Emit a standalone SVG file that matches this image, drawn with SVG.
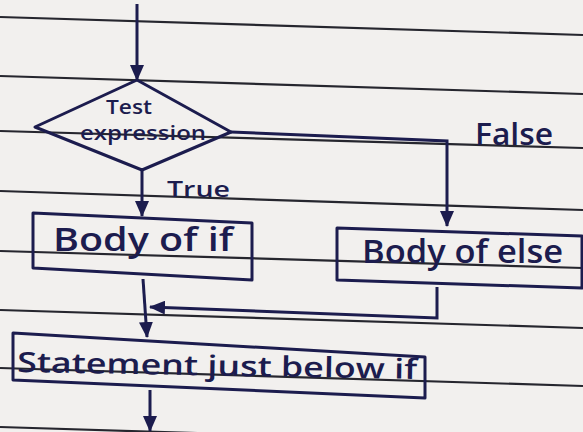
<svg xmlns="http://www.w3.org/2000/svg" width="583" height="432" viewBox="0 0 583 432">
  <defs>
    <marker id="arrow" viewBox="0 0 16 14" refX="15" refY="7" markerWidth="16" markerHeight="14" markerUnits="userSpaceOnUse" orient="auto">
      <path d="M0 0 L16 7 L0 14 Z" fill="#1c1c4e"/>
    </marker>
    <style>
      .paper { fill: #f2f0ee; }
      .rule { stroke: #26262e; stroke-width: 2.2; fill: none; }
      .shape { fill: none; stroke: #1c1c4e; stroke-width: 3; stroke-linejoin: round; }
      .link { fill: none; stroke: #1c1c4e; stroke-width: 3; marker-end: url(#arrow); }
      .ink { fill: #1c1c4e; font-family: "Open Sans", "Liberation Sans", sans-serif; font-weight: 600; }
    </style>
  </defs>

  <!-- notebook paper with ruled lines -->
  <rect class="paper" x="0" y="0" width="583" height="432"/>
  <g id="ruled-lines">
    <line class="rule" x1="0" y1="17" x2="583" y2="35"/>
    <line class="rule" x1="0" y1="76" x2="583" y2="94"/>
    <line class="rule" x1="0" y1="131" x2="583" y2="148"/>
    <line class="rule" x1="0" y1="191" x2="583" y2="210"/>
    <line class="rule" x1="0" y1="251" x2="583" y2="268"/>
    <line class="rule" x1="0" y1="310" x2="583" y2="328"/>
    <line class="rule" x1="0" y1="368" x2="583" y2="386"/>
    <line class="rule" x1="0" y1="427" x2="583" y2="445"/>
  </g>

  <!-- flow connectors -->
  <g id="connectors">
    <path class="link" d="M137 4 L137 80"/>
    <path class="link" d="M142 170 L142 216"/>
    <path class="link" d="M231 132 L447 141 L447 226"/>
    <path class="link" d="M143 279 L147 337"/>
    <path class="link" d="M437 287 L437 318 L150 307"/>
    <path class="link" d="M150 390 L150 431"/>
  </g>

  <g id="decision">
    <polygon class="shape" points="137,80 231,132 142,170 35,127"/>
    <text class="ink" x="129" y="114" font-size="20" text-anchor="middle" textLength="46" lengthAdjust="spacingAndGlyphs">Test</text>
    <text class="ink" x="143" y="140" font-size="19" text-anchor="middle" textLength="126" lengthAdjust="spacingAndGlyphs">expression</text>
  </g>

  <g id="label-true">
    <text class="ink" x="167" y="197" font-size="22" textLength="63" lengthAdjust="spacingAndGlyphs">True</text>
  </g>

  <g id="label-false">
    <text class="ink" x="475" y="145" font-size="30" textLength="78" lengthAdjust="spacingAndGlyphs">False</text>
  </g>

  <g id="body-if">
    <polygon class="shape" points="33,213 252,223 252,280 33,268"/>
    <text class="ink" x="53" y="251" font-size="32" textLength="180" lengthAdjust="spacingAndGlyphs">Body of if</text>
  </g>

  <g id="body-else">
    <polygon class="shape" points="337,228 582,236 582,288 337,280"/>
    <text class="ink" x="362" y="263" font-size="33" textLength="201" lengthAdjust="spacingAndGlyphs">Body of else</text>
  </g>

  <g id="statement">
    <polygon class="shape" points="13,333 425,357 425,398 13,380"/>
    <text class="ink" x="17" y="372" font-size="28" textLength="400" lengthAdjust="spacingAndGlyphs" transform="rotate(1 17 372)">Statement just below if</text>
  </g>
</svg>
